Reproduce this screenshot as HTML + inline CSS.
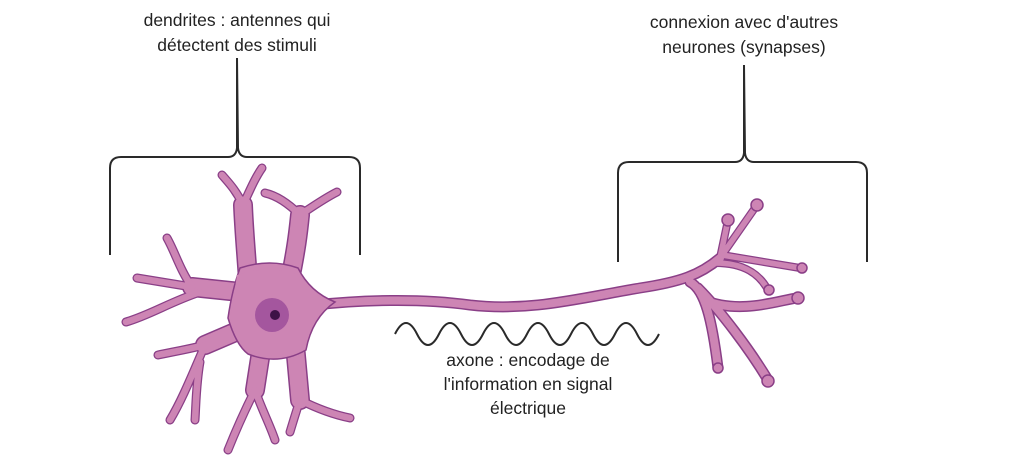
<!DOCTYPE html>
<html><head><style>
body{margin:0;background:#fff;width:1024px;height:469px;overflow:hidden}
svg{display:block}
text{font-family:"Liberation Sans",sans-serif;font-size:17.5px;fill:#222;text-anchor:middle}
</style></head><body>
<svg width="1024" height="469" viewBox="0 0 1024 469">
<g fill="none" stroke="#2a2a2a" stroke-width="2">
<path d="M110,255 V168 Q110,157 121,157 H228 Q236,157 237,148 L237,58 L238,148 Q239,157 247,157 H349 Q360,157 360,168 V255"/>
<path d="M618,262 V173 Q618,162 629,162 H735 Q743,162 744,153 L744,65 L745,153 Q746,162 754,162 H856 Q867,162 867,173 V262"/>
<path d="M395,334 q11,-22 22,0 t22,0 t22,0 t22,0 t22,0 t22,0 t22,0 t22,0 t22,0 t22,0 t22,0 t22,0"/>
</g>
<g fill="none" stroke-linecap="round" stroke-linejoin="round">
<g stroke="#8a3f87">
<path stroke-width="11" d="M315,305 C360,300 420,298 470,305 C530,312 580,298 640,288 C680,282 700,275 720,258 M704,300 C740,315 780,300 797,298 M690,282 C705,290 712,320 718,368 M698,288 C720,310 750,350 768,380"/>
<path stroke-width="8" d="M720,258 L757,205 M720,258 L728,220 M722,255 L800,268 M712,263 C745,262 760,275 768,290"/>
<path stroke-width="20" d="M248,280 C246,250 244,230 243,205 M290,280 C296,250 298,235 300,215 M240,292 L192,287 M240,330 L205,345 M262,345 L255,390 M295,345 L300,400"/>
<path stroke-width="9" d="M243,205 C236,190 228,182 222,175 M243,205 C250,190 255,178 262,168 M300,215 C290,205 278,196 265,193 M300,215 C315,205 325,198 337,192 M192,287 C180,270 175,252 167,238 M192,287 L137,278 M200,292 C170,302 150,315 126,322 M205,345 C185,350 172,352 158,355 M205,345 C192,375 182,400 170,420 M200,362 C196,385 196,405 195,420 M255,390 C245,410 236,430 228,450 M255,390 C262,410 270,425 275,440 M300,400 C296,412 293,422 290,432 M300,400 C320,410 335,415 350,418"/>
</g>
<g stroke="#cd85b4">
<path stroke-width="8" d="M315,305 C360,300 420,298 470,305 C530,312 580,298 640,288 C680,282 700,275 720,258 M704,300 C740,315 780,300 797,298 M690,282 C705,290 712,320 718,368 M698,288 C720,310 750,350 768,380"/>
<path stroke-width="5.5" d="M720,258 L757,205 M720,258 L728,220 M722,255 L800,268 M712,263 C745,262 760,275 768,290"/>
<path stroke-width="17" d="M248,280 C246,250 244,230 243,205 M290,280 C296,250 298,235 300,215 M240,292 L192,287 M240,330 L205,345 M262,345 L255,390 M295,345 L300,400"/>
<path stroke-width="6.5" d="M243,205 C236,190 228,182 222,175 M243,205 C250,190 255,178 262,168 M300,215 C290,205 278,196 265,193 M300,215 C315,205 325,198 337,192 M192,287 C180,270 175,252 167,238 M192,287 L137,278 M200,292 C170,302 150,315 126,322 M205,345 C185,350 172,352 158,355 M205,345 C192,375 182,400 170,420 M200,362 C196,385 196,405 195,420 M255,390 C245,410 236,430 228,450 M255,390 C262,410 270,425 275,440 M300,400 C296,412 293,422 290,432 M300,400 C320,410 335,415 350,418"/>
</g>
</g>
<g fill="#cd85b4" stroke="#8a3f87" stroke-width="1.5">
<circle cx="757" cy="205" r="6"/><circle cx="728" cy="220" r="6"/><circle cx="802" cy="268" r="5"/><circle cx="769" cy="290" r="5"/><circle cx="718" cy="368" r="5"/><circle cx="768" cy="381" r="6"/><circle cx="798" cy="298" r="6"/>
<path d="M240,268 Q270,258 298,268 Q310,292 335,302 Q312,318 306,350 Q278,366 248,354 Q236,345 228,318 Q232,290 240,268Z"/>
</g>
<path d="M237,275 Q270,264 300,275 Q312,294 332,303 Q310,318 304,347 Q278,362 250,351 Q238,342 231,318 Q234,293 237,275Z" fill="#cd85b4"/>
<circle cx="272" cy="315" r="17" fill="#a4569e"/>
<circle cx="275" cy="315" r="5" fill="#3d1247"/>
<text x="237" y="26">dendrites : antennes qui</text>
<text x="237" y="51">détectent des stimuli</text>
<text x="744" y="28">connexion avec d'autres</text>
<text x="744" y="53">neurones (synapses)</text>
<text x="528" y="366">axone : encodage de</text>
<text x="528" y="390">l'information en signal</text>
<text x="528" y="414">électrique</text>
</svg>
</body></html>
